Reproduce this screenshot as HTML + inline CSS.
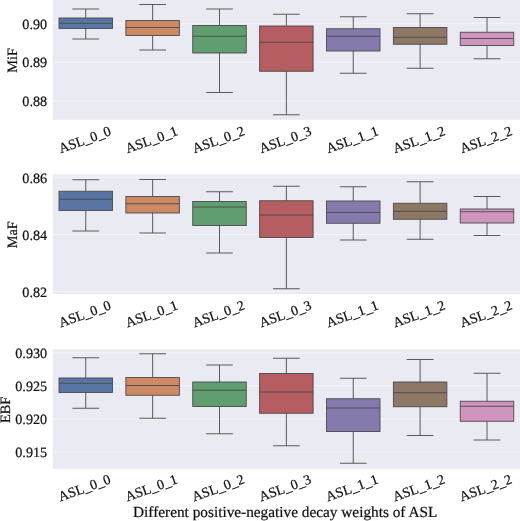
<!DOCTYPE html>
<html><head><meta charset="utf-8"><title>ASL boxplots</title>
<style>html,body{margin:0;padding:0;background:#fff;}svg{display:block;}svg text{font-family:"Liberation Serif","Times New Roman",serif;text-rendering:geometricPrecision;stroke:#111;stroke-width:0.22px;}</style></head>
<body>
<svg width="520" height="521" viewBox="0 0 520 521" font-size="14.2" fill="#111111">
<rect width="520" height="521" fill="#ffffff"/>
<rect x="52.7" y="-2" width="467.8" height="121.8" fill="#eaeaf2"/>
<line x1="52.7" x2="520.5" y1="23.3" y2="23.3" stroke="#ffffff" stroke-width="1" stroke-opacity="0.5"/>
<text x="47.2" y="28.60" text-anchor="end">0.90</text>
<line x1="52.7" x2="520.5" y1="62.1" y2="62.1" stroke="#ffffff" stroke-width="1" stroke-opacity="0.5"/>
<text x="47.2" y="67.40" text-anchor="end">0.89</text>
<line x1="52.7" x2="520.5" y1="101.0" y2="101.0" stroke="#ffffff" stroke-width="1" stroke-opacity="0.5"/>
<text x="47.2" y="106.30" text-anchor="end">0.88</text>
<g stroke="#4a4a4a" stroke-width="0.9" fill="none">
<line x1="85.75" x2="85.75" y1="9" y2="18"/>
<line x1="85.75" x2="85.75" y1="28.5" y2="39"/>
<line x1="72.38" x2="99.12" y1="9" y2="9"/>
<line x1="72.38" x2="99.12" y1="39" y2="39"/>
<rect x="59.00" y="18" width="53.50" height="10.5" fill="#5975a4"/>
<line x1="59.00" x2="112.50" y1="23.25" y2="23.25"/>
</g>
<g stroke="#4a4a4a" stroke-width="0.9" fill="none">
<line x1="152.62" x2="152.62" y1="4.5" y2="20.5"/>
<line x1="152.62" x2="152.62" y1="35.5" y2="50"/>
<line x1="139.25" x2="166.00" y1="4.5" y2="4.5"/>
<line x1="139.25" x2="166.00" y1="50" y2="50"/>
<rect x="125.88" y="20.5" width="53.50" height="15.0" fill="#cc8963"/>
<line x1="125.88" x2="179.38" y1="27.5" y2="27.5"/>
</g>
<g stroke="#4a4a4a" stroke-width="0.9" fill="none">
<line x1="219.50" x2="219.50" y1="9" y2="25.5"/>
<line x1="219.50" x2="219.50" y1="53" y2="92.5"/>
<line x1="206.12" x2="232.88" y1="9" y2="9"/>
<line x1="206.12" x2="232.88" y1="92.5" y2="92.5"/>
<rect x="192.75" y="25.5" width="53.50" height="27.5" fill="#5f9e6e"/>
<line x1="192.75" x2="246.25" y1="36.25" y2="36.25"/>
</g>
<g stroke="#4a4a4a" stroke-width="0.9" fill="none">
<line x1="286.38" x2="286.38" y1="14.25" y2="26"/>
<line x1="286.38" x2="286.38" y1="71.25" y2="114.75"/>
<line x1="273.00" x2="299.75" y1="14.25" y2="14.25"/>
<line x1="273.00" x2="299.75" y1="114.75" y2="114.75"/>
<rect x="259.62" y="26" width="53.50" height="45.25" fill="#b55d60"/>
<line x1="259.62" x2="313.12" y1="42.25" y2="42.25"/>
</g>
<g stroke="#4a4a4a" stroke-width="0.9" fill="none">
<line x1="353.25" x2="353.25" y1="16.75" y2="28.75"/>
<line x1="353.25" x2="353.25" y1="51" y2="73.25"/>
<line x1="339.88" x2="366.62" y1="16.75" y2="16.75"/>
<line x1="339.88" x2="366.62" y1="73.25" y2="73.25"/>
<rect x="326.50" y="28.75" width="53.50" height="22.25" fill="#857aab"/>
<line x1="326.50" x2="380.00" y1="36.25" y2="36.25"/>
</g>
<g stroke="#4a4a4a" stroke-width="0.9" fill="none">
<line x1="420.12" x2="420.12" y1="13.75" y2="27.5"/>
<line x1="420.12" x2="420.12" y1="44.25" y2="68.25"/>
<line x1="406.75" x2="433.50" y1="13.75" y2="13.75"/>
<line x1="406.75" x2="433.50" y1="68.25" y2="68.25"/>
<rect x="393.38" y="27.5" width="53.50" height="16.75" fill="#8d7866"/>
<line x1="393.38" x2="446.88" y1="37.25" y2="37.25"/>
</g>
<g stroke="#4a4a4a" stroke-width="0.9" fill="none">
<line x1="487.00" x2="487.00" y1="17.5" y2="32.25"/>
<line x1="487.00" x2="487.00" y1="45.5" y2="58.75"/>
<line x1="473.62" x2="500.38" y1="17.5" y2="17.5"/>
<line x1="473.62" x2="500.38" y1="58.75" y2="58.75"/>
<rect x="460.25" y="32.25" width="53.50" height="13.25" fill="#d095bf"/>
<line x1="460.25" x2="513.75" y1="38.5" y2="38.5"/>
</g>
<text transform="translate(17.0,60.4) rotate(-90)" text-anchor="middle" font-size="14.3">MiF</text>
<text transform="translate(84.65,139.70) rotate(-20)" text-anchor="middle" y="4.6" font-size="14.0">ASL_0_0</text>
<text transform="translate(151.53,139.70) rotate(-20)" text-anchor="middle" y="4.6" font-size="14.0">ASL_0_1</text>
<text transform="translate(218.40,139.70) rotate(-20)" text-anchor="middle" y="4.6" font-size="14.0">ASL_0_2</text>
<text transform="translate(285.27,139.70) rotate(-20)" text-anchor="middle" y="4.6" font-size="14.0">ASL_0_3</text>
<text transform="translate(352.15,139.70) rotate(-20)" text-anchor="middle" y="4.6" font-size="14.0">ASL_1_1</text>
<text transform="translate(419.02,139.70) rotate(-20)" text-anchor="middle" y="4.6" font-size="14.0">ASL_1_2</text>
<text transform="translate(485.90,139.70) rotate(-20)" text-anchor="middle" y="4.6" font-size="14.0">ASL_2_2</text>
<rect x="52.7" y="174.4" width="467.8" height="119.6" fill="#eaeaf2"/>
<line x1="52.7" x2="520.5" y1="177.3" y2="177.3" stroke="#ffffff" stroke-width="1" stroke-opacity="0.5"/>
<text x="47.2" y="182.60" text-anchor="end">0.86</text>
<line x1="52.7" x2="520.5" y1="234.5" y2="234.5" stroke="#ffffff" stroke-width="1" stroke-opacity="0.5"/>
<text x="47.2" y="239.80" text-anchor="end">0.84</text>
<line x1="52.7" x2="520.5" y1="291.4" y2="291.4" stroke="#ffffff" stroke-width="1" stroke-opacity="0.5"/>
<text x="47.2" y="296.70" text-anchor="end">0.82</text>
<g stroke="#4a4a4a" stroke-width="0.9" fill="none">
<line x1="85.75" x2="85.75" y1="179.75" y2="191.25"/>
<line x1="85.75" x2="85.75" y1="210.5" y2="231"/>
<line x1="72.38" x2="99.12" y1="179.75" y2="179.75"/>
<line x1="72.38" x2="99.12" y1="231" y2="231"/>
<rect x="59.00" y="191.25" width="53.50" height="19.25" fill="#5975a4"/>
<line x1="59.00" x2="112.50" y1="199.25" y2="199.25"/>
</g>
<g stroke="#4a4a4a" stroke-width="0.9" fill="none">
<line x1="152.62" x2="152.62" y1="179.5" y2="196.5"/>
<line x1="152.62" x2="152.62" y1="213" y2="233"/>
<line x1="139.25" x2="166.00" y1="179.5" y2="179.5"/>
<line x1="139.25" x2="166.00" y1="233" y2="233"/>
<rect x="125.88" y="196.5" width="53.50" height="16.5" fill="#cc8963"/>
<line x1="125.88" x2="179.38" y1="203.75" y2="203.75"/>
</g>
<g stroke="#4a4a4a" stroke-width="0.9" fill="none">
<line x1="219.50" x2="219.50" y1="191.75" y2="201.5"/>
<line x1="219.50" x2="219.50" y1="225.5" y2="253"/>
<line x1="206.12" x2="232.88" y1="191.75" y2="191.75"/>
<line x1="206.12" x2="232.88" y1="253" y2="253"/>
<rect x="192.75" y="201.5" width="53.50" height="24.0" fill="#5f9e6e"/>
<line x1="192.75" x2="246.25" y1="207" y2="207"/>
</g>
<g stroke="#4a4a4a" stroke-width="0.9" fill="none">
<line x1="286.38" x2="286.38" y1="186.25" y2="200.75"/>
<line x1="286.38" x2="286.38" y1="237.5" y2="288.75"/>
<line x1="273.00" x2="299.75" y1="186.25" y2="186.25"/>
<line x1="273.00" x2="299.75" y1="288.75" y2="288.75"/>
<rect x="259.62" y="200.75" width="53.50" height="36.75" fill="#b55d60"/>
<line x1="259.62" x2="313.12" y1="215" y2="215"/>
</g>
<g stroke="#4a4a4a" stroke-width="0.9" fill="none">
<line x1="353.25" x2="353.25" y1="186.75" y2="201"/>
<line x1="353.25" x2="353.25" y1="223.25" y2="240"/>
<line x1="339.88" x2="366.62" y1="186.75" y2="186.75"/>
<line x1="339.88" x2="366.62" y1="240" y2="240"/>
<rect x="326.50" y="201" width="53.50" height="22.25" fill="#857aab"/>
<line x1="326.50" x2="380.00" y1="212.5" y2="212.5"/>
</g>
<g stroke="#4a4a4a" stroke-width="0.9" fill="none">
<line x1="420.12" x2="420.12" y1="181.75" y2="203.25"/>
<line x1="420.12" x2="420.12" y1="219.25" y2="239.25"/>
<line x1="406.75" x2="433.50" y1="181.75" y2="181.75"/>
<line x1="406.75" x2="433.50" y1="239.25" y2="239.25"/>
<rect x="393.38" y="203.25" width="53.50" height="16.0" fill="#8d7866"/>
<line x1="393.38" x2="446.88" y1="211.25" y2="211.25"/>
</g>
<g stroke="#4a4a4a" stroke-width="0.9" fill="none">
<line x1="487.00" x2="487.00" y1="196.5" y2="209"/>
<line x1="487.00" x2="487.00" y1="223" y2="235.5"/>
<line x1="473.62" x2="500.38" y1="196.5" y2="196.5"/>
<line x1="473.62" x2="500.38" y1="235.5" y2="235.5"/>
<rect x="460.25" y="209" width="53.50" height="14" fill="#d095bf"/>
<line x1="460.25" x2="513.75" y1="211.75" y2="211.75"/>
</g>
<text transform="translate(17.0,234.7) rotate(-90)" text-anchor="middle" font-size="14.3">MaF</text>
<text transform="translate(84.65,313.90) rotate(-20)" text-anchor="middle" y="4.6" font-size="14.0">ASL_0_0</text>
<text transform="translate(151.53,313.90) rotate(-20)" text-anchor="middle" y="4.6" font-size="14.0">ASL_0_1</text>
<text transform="translate(218.40,313.90) rotate(-20)" text-anchor="middle" y="4.6" font-size="14.0">ASL_0_2</text>
<text transform="translate(285.27,313.90) rotate(-20)" text-anchor="middle" y="4.6" font-size="14.0">ASL_0_3</text>
<text transform="translate(352.15,313.90) rotate(-20)" text-anchor="middle" y="4.6" font-size="14.0">ASL_1_1</text>
<text transform="translate(419.02,313.90) rotate(-20)" text-anchor="middle" y="4.6" font-size="14.0">ASL_1_2</text>
<text transform="translate(485.90,313.90) rotate(-20)" text-anchor="middle" y="4.6" font-size="14.0">ASL_2_2</text>
<rect x="52.7" y="349.25" width="467.8" height="119.44999999999999" fill="#eaeaf2"/>
<line x1="52.7" x2="520.5" y1="353" y2="353" stroke="#ffffff" stroke-width="1" stroke-opacity="0.5"/>
<text x="47.2" y="358.30" text-anchor="end">0.930</text>
<line x1="52.7" x2="520.5" y1="385.75" y2="385.75" stroke="#ffffff" stroke-width="1" stroke-opacity="0.5"/>
<text x="47.2" y="391.05" text-anchor="end">0.925</text>
<line x1="52.7" x2="520.5" y1="419" y2="419" stroke="#ffffff" stroke-width="1" stroke-opacity="0.5"/>
<text x="47.2" y="424.30" text-anchor="end">0.920</text>
<line x1="52.7" x2="520.5" y1="452" y2="452" stroke="#ffffff" stroke-width="1" stroke-opacity="0.5"/>
<text x="47.2" y="457.30" text-anchor="end">0.915</text>
<g stroke="#4a4a4a" stroke-width="0.9" fill="none">
<line x1="85.75" x2="85.75" y1="357.75" y2="378"/>
<line x1="85.75" x2="85.75" y1="392.5" y2="408.25"/>
<line x1="72.38" x2="99.12" y1="357.75" y2="357.75"/>
<line x1="72.38" x2="99.12" y1="408.25" y2="408.25"/>
<rect x="59.00" y="378" width="53.50" height="14.5" fill="#5975a4"/>
<line x1="59.00" x2="112.50" y1="383.25" y2="383.25"/>
</g>
<g stroke="#4a4a4a" stroke-width="0.9" fill="none">
<line x1="152.62" x2="152.62" y1="353.75" y2="377.5"/>
<line x1="152.62" x2="152.62" y1="395.25" y2="418.25"/>
<line x1="139.25" x2="166.00" y1="353.75" y2="353.75"/>
<line x1="139.25" x2="166.00" y1="418.25" y2="418.25"/>
<rect x="125.88" y="377.5" width="53.50" height="17.75" fill="#cc8963"/>
<line x1="125.88" x2="179.38" y1="385.5" y2="385.5"/>
</g>
<g stroke="#4a4a4a" stroke-width="0.9" fill="none">
<line x1="219.50" x2="219.50" y1="365" y2="382"/>
<line x1="219.50" x2="219.50" y1="406.5" y2="433.75"/>
<line x1="206.12" x2="232.88" y1="365" y2="365"/>
<line x1="206.12" x2="232.88" y1="433.75" y2="433.75"/>
<rect x="192.75" y="382" width="53.50" height="24.5" fill="#5f9e6e"/>
<line x1="192.75" x2="246.25" y1="390.25" y2="390.25"/>
</g>
<g stroke="#4a4a4a" stroke-width="0.9" fill="none">
<line x1="286.38" x2="286.38" y1="358.25" y2="373.5"/>
<line x1="286.38" x2="286.38" y1="413.25" y2="445.75"/>
<line x1="273.00" x2="299.75" y1="358.25" y2="358.25"/>
<line x1="273.00" x2="299.75" y1="445.75" y2="445.75"/>
<rect x="259.62" y="373.5" width="53.50" height="39.75" fill="#b55d60"/>
<line x1="259.62" x2="313.12" y1="392" y2="392"/>
</g>
<g stroke="#4a4a4a" stroke-width="0.9" fill="none">
<line x1="353.25" x2="353.25" y1="378.25" y2="398.75"/>
<line x1="353.25" x2="353.25" y1="431.5" y2="463.25"/>
<line x1="339.88" x2="366.62" y1="378.25" y2="378.25"/>
<line x1="339.88" x2="366.62" y1="463.25" y2="463.25"/>
<rect x="326.50" y="398.75" width="53.50" height="32.75" fill="#857aab"/>
<line x1="326.50" x2="380.00" y1="408" y2="408"/>
</g>
<g stroke="#4a4a4a" stroke-width="0.9" fill="none">
<line x1="420.12" x2="420.12" y1="359.5" y2="382"/>
<line x1="420.12" x2="420.12" y1="406.75" y2="435.5"/>
<line x1="406.75" x2="433.50" y1="359.5" y2="359.5"/>
<line x1="406.75" x2="433.50" y1="435.5" y2="435.5"/>
<rect x="393.38" y="382" width="53.50" height="24.75" fill="#8d7866"/>
<line x1="393.38" x2="446.88" y1="392.75" y2="392.75"/>
</g>
<g stroke="#4a4a4a" stroke-width="0.9" fill="none">
<line x1="487.00" x2="487.00" y1="373.25" y2="401.25"/>
<line x1="487.00" x2="487.00" y1="421.25" y2="440"/>
<line x1="473.62" x2="500.38" y1="373.25" y2="373.25"/>
<line x1="473.62" x2="500.38" y1="440" y2="440"/>
<rect x="460.25" y="401.25" width="53.50" height="20.0" fill="#d095bf"/>
<line x1="460.25" x2="513.75" y1="406.25" y2="406.25"/>
</g>
<text transform="translate(9.9,409.975) rotate(-90)" text-anchor="middle" font-size="14.3">EBF</text>
<text transform="translate(84.35,487.90) rotate(-20)" text-anchor="middle" y="4.6" font-size="14.0">ASL_0_0</text>
<text transform="translate(151.22,487.90) rotate(-20)" text-anchor="middle" y="4.6" font-size="14.0">ASL_0_1</text>
<text transform="translate(218.10,487.90) rotate(-20)" text-anchor="middle" y="4.6" font-size="14.0">ASL_0_2</text>
<text transform="translate(284.97,487.90) rotate(-20)" text-anchor="middle" y="4.6" font-size="14.0">ASL_0_3</text>
<text transform="translate(351.85,487.90) rotate(-20)" text-anchor="middle" y="4.6" font-size="14.0">ASL_1_1</text>
<text transform="translate(418.72,487.90) rotate(-20)" text-anchor="middle" y="4.6" font-size="14.0">ASL_1_2</text>
<text transform="translate(485.60,487.90) rotate(-20)" text-anchor="middle" y="4.6" font-size="14.0">ASL_2_2</text>
<text x="285.2" y="517.0" text-anchor="middle" font-size="15.3">Different positive-negative decay weights of ASL</text>
</svg>
</body></html>
